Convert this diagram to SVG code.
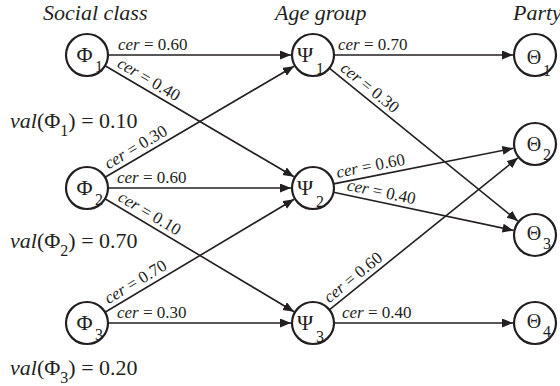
<svg xmlns="http://www.w3.org/2000/svg" width="560" height="386" viewBox="0 0 560 386" font-family="'Liberation Serif', 'Times New Roman', 'DejaVu Serif', serif">
<style>
text{font-family:"Liberation Serif","Times New Roman","Noto Serif","DejaVu Serif",serif;fill:#231f20}
.title{font-size:22px;font-style:italic}
.g{font-size:22px;text-anchor:middle}
.s{font-size:16px}
.lab{font-size:17px}
.it{font-style:italic}
.val{font-size:22px}
circle{fill:#fff;stroke:#231f20;stroke-width:2.2}
#edges line{stroke:#231f20;stroke-width:1.6;marker-end:url(#ah)}
</style>
<defs>
<marker id="ah" markerUnits="userSpaceOnUse" markerWidth="12" markerHeight="10" refX="11" refY="4.5" orient="auto">
<path d="M0,0 L11,4.5 L0,9 z" fill="#231f20"/>
</marker>
</defs>
<rect width="560" height="386" fill="#fff"/>
<g id="titles">
<text class="title" x="43" y="19.5">Social class</text>
<text class="title" x="275" y="19.5">Age group</text>
<text class="title" x="513" y="19.5">Party</text>
</g>
<g id="edges">
<line x1="108" y1="55" x2="291" y2="55"/>
<line x1="105.1" y1="65.7" x2="294" y2="176.8"/>
<line x1="105.1" y1="177.3" x2="294" y2="66.2"/>
<line x1="108" y1="188" x2="291" y2="188"/>
<line x1="105" y1="198.8" x2="294.1" y2="311.7"/>
<line x1="105" y1="312.2" x2="294.1" y2="199.3"/>
<line x1="108" y1="323" x2="291" y2="323"/>
<line x1="334" y1="55" x2="513" y2="55"/>
<line x1="329.3" y1="68.2" x2="517.9" y2="221.1"/>
<line x1="333.6" y1="183.9" x2="513.4" y2="148.3"/>
<line x1="333.5" y1="192.3" x2="513.5" y2="230.4"/>
<line x1="329.3" y1="309.8" x2="517.9" y2="157.8"/>
<line x1="334" y1="323" x2="513" y2="323"/>
</g>
<g id="edge-labels">
<text class="lab" x="118" y="50"><tspan class="it">cer</tspan> = 0.60</text>
<text class="lab" transform="translate(113.7,70.7) rotate(30.47)" y="-5"><tspan class="it">cer</tspan> = 0.40</text>
<text class="lab" transform="translate(111.1,173.8) rotate(-30.47)" y="-5"><tspan class="it">cer</tspan> = 0.30</text>
<text class="lab" x="117" y="183"><tspan class="it">cer</tspan> = 0.60</text>
<text class="lab" transform="translate(114.5,204.4) rotate(30.85)" y="-5"><tspan class="it">cer</tspan> = 0.10</text>
<text class="lab" transform="translate(111,308.6) rotate(-30.85)" y="-5"><tspan class="it">cer</tspan> = 0.70</text>
<text class="lab" x="117" y="318"><tspan class="it">cer</tspan> = 0.30</text>
<text class="lab" x="338" y="50"><tspan class="it">cer</tspan> = 0.70</text>
<text class="lab" transform="translate(336.3,73.9) rotate(39.03)" y="-5"><tspan class="it">cer</tspan> = 0.30</text>
<text class="lab" transform="translate(338.5,182.9) rotate(-11.21)" y="-5"><tspan class="it">cer</tspan> = 0.60</text>
<text class="lab" transform="translate(345.3,194.8) rotate(11.95)" y="-5"><tspan class="it">cer</tspan> = 0.40</text>
<text class="lab" transform="translate(332.5,307.3) rotate(-38.88)" y="-5"><tspan class="it">cer</tspan> = 0.60</text>
<text class="lab" x="342" y="318"><tspan class="it">cer</tspan> = 0.40</text>
</g>
<g id="phi1"><circle cx="87" cy="55" r="21"/><text class="g" x="84.5" y="62">Φ</text><text class="s" x="95" y="72">1</text></g>
<g id="phi2"><circle cx="87" cy="188" r="21"/><text class="g" x="84.5" y="195">Φ</text><text class="s" x="95" y="205">2</text></g>
<g id="phi3"><circle cx="87" cy="323" r="21"/><text class="g" x="84.5" y="330">Φ</text><text class="s" x="95" y="340">3</text></g>
<g id="psi1"><circle cx="313" cy="55" r="21"/><text class="g" x="305" y="62">Ψ</text><text class="s" x="316" y="74">1</text></g>
<g id="psi2"><circle cx="313" cy="188" r="21"/><text class="g" x="305" y="195">Ψ</text><text class="s" x="316" y="207">2</text></g>
<g id="psi3"><circle cx="313" cy="323" r="21"/><text class="g" x="305" y="330">Ψ</text><text class="s" x="316" y="342">3</text></g>
<g id="theta1"><circle cx="535" cy="55" r="21"/><text class="g" x="534" y="64" style="font-size:20px">Θ</text><text class="s" x="543" y="76">1</text></g>
<g id="theta2"><circle cx="535" cy="144" r="21"/><text class="g" x="534" y="151" style="font-size:20px">Θ</text><text class="s" x="543" y="160">2</text></g>
<g id="theta3"><circle cx="535" cy="235" r="21"/><text class="g" x="534" y="240" style="font-size:20px">Θ</text><text class="s" x="543" y="249">3</text></g>
<g id="theta4"><circle cx="535" cy="323" r="21"/><text class="g" x="534" y="328" style="font-size:20px">Θ</text><text class="s" x="543" y="337">4</text></g>
<g id="values">
<text class="val" x="10" y="128"><tspan class="it">val</tspan>(Φ<tspan font-size="16" dy="8">1</tspan><tspan dy="-8">) = 0.10</tspan></text>
<text class="val" x="10" y="248"><tspan class="it">val</tspan>(Φ<tspan font-size="16" dy="8">2</tspan><tspan dy="-8">) = 0.70</tspan></text>
<text class="val" x="10" y="375"><tspan class="it">val</tspan>(Φ<tspan font-size="16" dy="8">3</tspan><tspan dy="-8">) = 0.20</tspan></text>
</g>
</svg>
